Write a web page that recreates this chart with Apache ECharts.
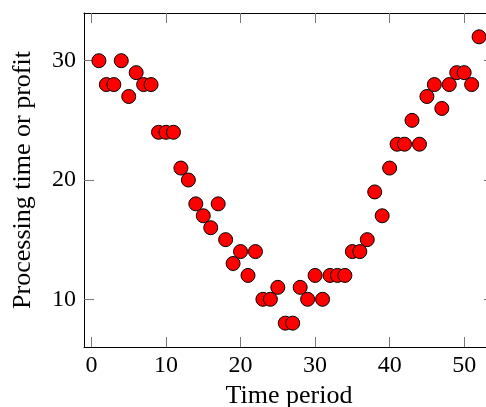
<!DOCTYPE html>
<html>
<head>
<meta charset="utf-8">
<script src="https://cdn.jsdelivr.net/npm/echarts@6/dist/echarts.min.js"></script>
<style>html,body{margin:0;padding:0;background:#fff}#c{width:486px;height:407px}</style>
</head>
<body>
<div id="c"></div>
<script>
const periods = [1,2,3,4,5,6,7,8,9,10,11,12,13,14,15,16,17,18,19,20,21,22,23,24,25,26,27,28,29,30,31,32,33,34,35,36,37,38,39,40,41,42,43,44,45,46,47,48,49,50,51,52];
const values = [30,28,28,30,27,29,28,28,24,24,24,21,20,18,17,16,18,15,13,14,12,14,10,10,11,8,8,11,10,12,10,12,12,12,14,14,15,19,17,21,23,23,25,23,27,28,26,28,29,29,28,32];
const xTicks = [0,10,20,30,40,50];
const yTicks = [10,20,30];
const xTitle = 'Time period';
const yTitle = 'Processing time or profit';

const font = 'Liberation Serif';
const points = periods.map((p, i) => [p, values[i]]);
const chart = echarts.init(document.getElementById('c'), null, {renderer: 'canvas'});
const axLine = {show: true, onZero: false, lineStyle: {color: '#000', width: 1}};
const tickStyle = {color: '#777', width: 1};
chart.setOption({
  animation: false,
  grid: {left: 84, right: -8, top: 13, bottom: 60, containLabel: false, outerBoundsMode: 'none'},
  xAxis: [{
    type: 'value', min: -1, max: 54, position: 'bottom',
    name: xTitle, nameLocation: 'middle', nameGap: 31,
    nameTextStyle: {fontFamily: font, fontSize: 26, color: '#000'},
    axisLine: axLine,
    axisTick: {show: true, inside: true, length: 10, lineStyle: tickStyle, customValues: xTicks},
    axisLabel: {show: true, margin: 7, fontFamily: font, fontSize: 24, color: '#000', customValues: xTicks},
    splitLine: {show: false}
  }, {
    type: 'value', min: -1, max: 54, position: 'top',
    axisLine: axLine,
    axisTick: {show: true, inside: true, length: 10, lineStyle: tickStyle, customValues: xTicks},
    axisLabel: {show: false},
    splitLine: {show: false}
  }],
  yAxis: [{
    type: 'value', min: 6, max: 34, position: 'left',
    name: yTitle, nameLocation: 'middle', nameGap: 48, nameRotate: 90,
    nameTextStyle: {fontFamily: font, fontSize: 26, color: '#000'},
    axisLine: axLine,
    axisTick: {show: true, inside: true, length: 10, lineStyle: tickStyle, customValues: yTicks},
    axisLabel: {show: true, margin: 8, fontFamily: font, fontSize: 24, color: '#000', customValues: yTicks},
    splitLine: {show: false}
  }, {
    type: 'value', min: 6, max: 34, position: 'right',
    axisLine: axLine,
    axisTick: {show: true, inside: true, length: 10, lineStyle: tickStyle, customValues: yTicks},
    axisLabel: {show: false},
    splitLine: {show: false}
  }],
  series: [{
    type: 'scatter', xAxisIndex: 0, yAxisIndex: 0,
    data: points, symbol: 'circle', symbolSize: 14,
    itemStyle: {color: '#ff0000', borderColor: '#000', borderWidth: 1, opacity: 1}
  }]
});
</script>
</body>
</html>
